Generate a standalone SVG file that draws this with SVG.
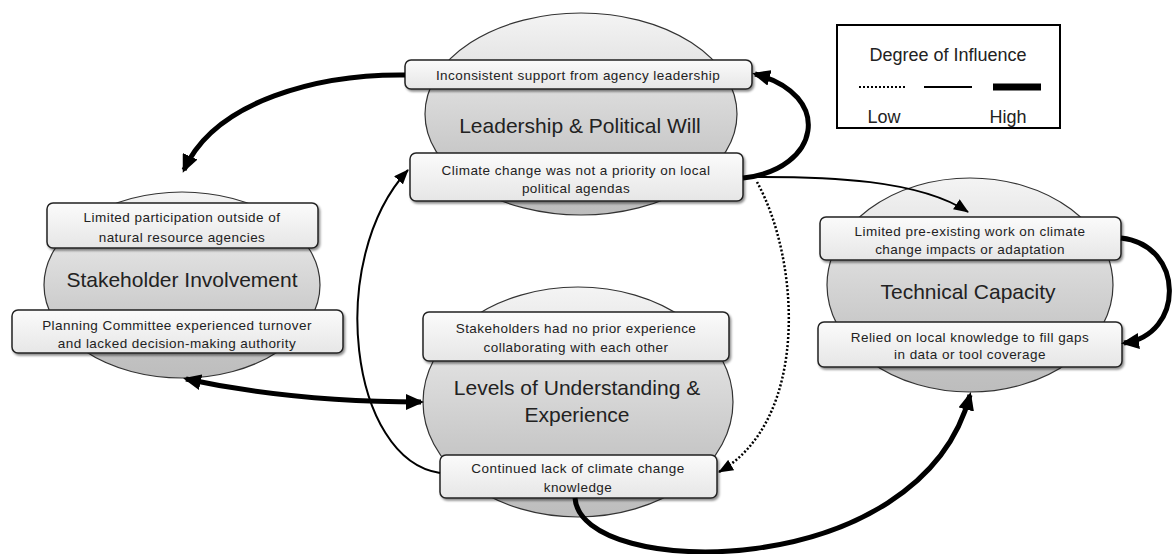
<svg xmlns="http://www.w3.org/2000/svg" width="1174" height="554" viewBox="0 0 1174 554">
<defs>
<linearGradient id="eg" x1="0" y1="0" x2="0" y2="1">
<stop offset="0" stop-color="#f4f4f4"/>
<stop offset="0.7" stop-color="#c8c8c8"/>
<stop offset="1" stop-color="#bdbdbd"/>
</linearGradient>
<linearGradient id="bg" x1="0" y1="0" x2="0" y2="1">
<stop offset="0" stop-color="#fbfbfb"/>
<stop offset="1" stop-color="#e6e6e6"/>
</linearGradient>
<filter id="sh" x="-10%" y="-20%" width="120%" height="150%">
<feDropShadow dx="1.5" dy="2" stdDeviation="1.2" flood-color="#000" flood-opacity="0.45"/>
</filter>
<marker id="ah" viewBox="0 0 18 16" refX="15" refY="8" markerWidth="18" markerHeight="16" markerUnits="userSpaceOnUse" orient="auto-start-reverse">
<path d="M0,0 L18,8 L0,16 z" fill="#000"/>
</marker>
<marker id="as" viewBox="0 0 15 12" refX="14" refY="6" markerWidth="15" markerHeight="12" markerUnits="userSpaceOnUse" orient="auto">
<path d="M0,0 L15,6 L0,12 z" fill="#000"/>
</marker>
</defs>
<style>
.ell{fill:url(#eg);stroke:#333;stroke-width:1.2}
.box{fill:url(#bg);stroke:#222;stroke-width:1.5;filter:url(#sh)}
.bt{font-family:"Liberation Sans",Arial,sans-serif;font-size:13.5px;letter-spacing:0.45px;fill:#222;text-anchor:middle}
.tt{font-family:"Liberation Sans",Arial,sans-serif;font-size:21px;fill:#222;text-anchor:middle}
.lt{font-family:"Liberation Sans",Arial,sans-serif;font-size:18px;fill:#222;text-anchor:middle}
.thick{fill:none;stroke:#000;stroke-width:5;marker-end:url(#ah)}
.thin{fill:none;stroke:#000;stroke-width:2;marker-end:url(#as)}
.dot{fill:none;stroke:#000;stroke-width:2.5;stroke-dasharray:2 2;marker-end:url(#as)}
</style>
<rect width="1174" height="554" fill="#fff"/>

<g id="leadership">
<ellipse class="ell" cx="581" cy="114" rx="156" ry="101"/>
<text class="tt" x="580" y="133">Leadership &amp; Political Will</text>
<rect class="box" x="405" y="60" width="347" height="29" rx="6"/>
<text class="bt" x="578" y="80">Inconsistent support from agency leadership</text>
<rect class="box" x="410" y="153" width="333" height="48" rx="6"/>
<text class="bt" x="576" y="175">Climate change was not a priority on local</text>
<text class="bt" x="576" y="193">political agendas</text>
</g>

<g id="stakeholder">
<ellipse class="ell" cx="182" cy="285" rx="138" ry="93"/>
<text class="tt" x="182" y="287">Stakeholder Involvement</text>
<rect class="box" x="47" y="203" width="271" height="45" rx="6"/>
<text class="bt" x="182" y="222">Limited participation outside of</text>
<text class="bt" x="182" y="242">natural resource agencies</text>
<rect class="box" x="12" y="310" width="331" height="43" rx="6"/>
<text class="bt" x="177" y="330">Planning Committee experienced turnover</text>
<text class="bt" x="177" y="348">and lacked decision-making authority</text>
</g>

<g id="technical">
<ellipse class="ell" cx="970" cy="285" rx="143" ry="107"/>
<text class="tt" x="968" y="299">Technical Capacity</text>
<rect class="box" x="820" y="217" width="301" height="43" rx="6"/>
<text class="bt" x="970" y="236">Limited pre-existing work on climate</text>
<text class="bt" x="970" y="254">change impacts or adaptation</text>
<rect class="box" x="818" y="322" width="304" height="45" rx="6"/>
<text class="bt" x="970" y="342">Relied on local knowledge to fill gaps</text>
<text class="bt" x="970" y="359">in data or tool coverage</text>
</g>

<g id="levels">
<ellipse class="ell" cx="578" cy="402" rx="155" ry="115"/>
<text class="tt" x="577" y="395">Levels of Understanding &amp;</text>
<text class="tt" x="577" y="422">Experience</text>
<rect class="box" x="423" y="312" width="306" height="49" rx="6"/>
<text class="bt" x="576" y="333">Stakeholders had no prior experience</text>
<text class="bt" x="576" y="352">collaborating with each other</text>
<rect class="box" x="440" y="455" width="277" height="43" rx="6"/>
<text class="bt" x="578" y="473">Continued lack of climate change</text>
<text class="bt" x="578" y="492">knowledge</text>
</g>

<g id="legend">
<rect x="837" y="25" width="223" height="103" fill="#fff" stroke="#000" stroke-width="2"/>
<text class="lt" x="948" y="61">Degree of Influence</text>
<line x1="859" y1="87" x2="907" y2="87" stroke="#000" stroke-width="2" stroke-dasharray="2 2"/>
<line x1="924" y1="87" x2="972" y2="87" stroke="#000" stroke-width="2"/>
<line x1="993" y1="87" x2="1041" y2="87" stroke="#000" stroke-width="7"/>
<text class="lt" x="884" y="123">Low</text>
<text class="lt" x="1008" y="123">High</text>
</g>

<g id="connectors">
<path class="thick" d="M405,75 C320,74 215,100 184,170"/>
<path class="thick" d="M743,178 C820,170 835,95 755,74"/>
<path class="thin" d="M743,177 C830,176 920,180 968,212"/>
<path class="dot" d="M757,182 C800,260 810,420 719,472"/>
<path class="thin" d="M440,473 C350,460 325,260 408,170"/>
<path class="thick" d="M186,379 C260,395 340,402 421,402" marker-start="url(#ah)"/>
<path class="thick" d="M575,498 C580,580 920,585 970,395"/>
<path class="thick" d="M1121,238 C1185,245 1185,335 1124,343"/>
</g>
</svg>
